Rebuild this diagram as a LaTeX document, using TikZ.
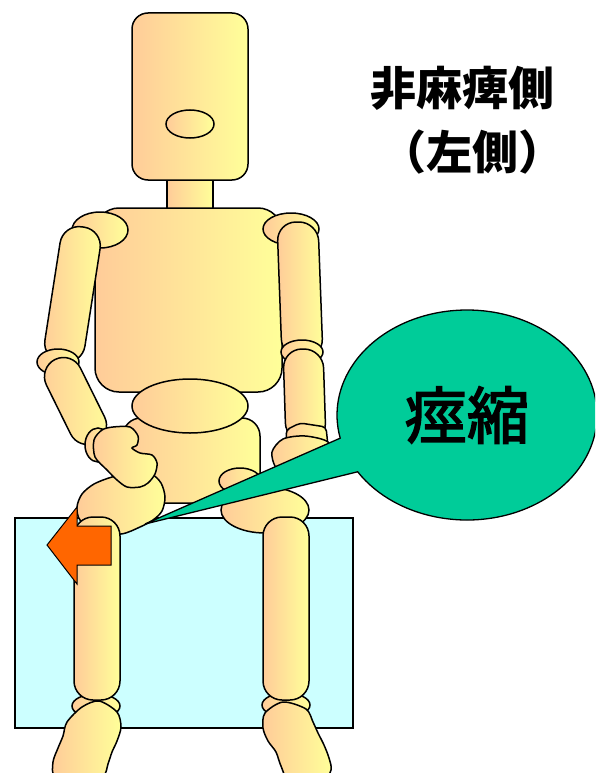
\documentclass[tikz,border=0pt]{standalone}
\usepackage{fontspec}
\newfontfamily\jpfont{Noto Sans CJK JP}
\newfontfamily\jpmedium{Noto Sans CJK JP}[FakeBold=2.5]
\usetikzlibrary{shapes.callouts}
\definecolor{woodleft}{RGB}{255,204,153}
\definecolor{woodright}{RGB}{255,255,153}
\definecolor{seatblue}{RGB}{204,255,255}
\definecolor{bubblegreen}{RGB}{0,204,153}
\definecolor{arroworange}{RGB}{255,102,0}

\begin{document}
\begin{tikzpicture}[
        x=1pt, y=-1pt,
        wood/.style={
            draw,
            line width=1.5pt,
            left color=woodleft,
            right color=woodright,
        },
        limb/.style={
            wood,
            rounded corners=19pt,
        },
        seat/.style={
            draw,
            line width=1.2pt,
            fill=seatblue,
        },
        bubble/.style={
            ellipse callout,
            draw,
            line width=1.3pt,
            fill=bubblegreen,
            minimum width=260pt,
            minimum height=210pt,
            callout pointer arc=20,
            font=\jpmedium\fontsize{62}{70}\selectfont,
        },
        label/.style={
            font=\jpfont\bfseries\fontsize{46}{50}\selectfont,
        },
    ]

    \useasboundingbox (0,0) rectangle (595,773);
    \clip (0,0) rectangle (595,773);

    \draw[seat] (15,518) rectangle (353,728);

    \draw[wood] (167,176) rectangle (213,212);
    \draw[wood, rounded corners=16pt] (132,13) rectangle (248,180);
    \draw[wood] (190,124) ellipse [x radius=24pt, y radius=14pt];

    \draw[wood, rounded corners=24pt] (95,208) rectangle (282,392);
    \draw[wood] (100,230) ellipse [x radius=28pt, y radius=18pt];
    \draw[wood] (291,229) ellipse [x radius=28pt, y radius=16pt];

    \draw[limb] (63,224) -- (103,230) -- (82,365) -- (42,359) -- cycle;
    \draw[wood] (58,362) ellipse [x radius=21pt, y radius=13pt];
    \draw[limb] (38,368) -- (72,351) -- (113,434) -- (79,451) -- cycle;

    \draw[limb] (277,222) -- (318,222) -- (323,358) -- (282,358) -- cycle;
    \draw[wood] (302,352) ellipse [x radius=21pt, y radius=12pt];
    \draw[limb] (283,349) -- (323,349) -- (326,442) -- (286,442) -- cycle;

    \draw[wood, rounded corners=18pt] (123,418) rectangle (260,503);
    \draw[wood] (190,406) ellipse [x radius=58pt, y radius=27pt];

    \draw[wood] (265,510) ellipse [x radius=44pt, y radius=23pt];
    \draw[wood] (240,481) ellipse [x radius=21pt, y radius=13pt];
    \draw[wood] plot[smooth cycle] coordinates {
        (77,507) (82,494) (94,484) (112,477) (132,473) (151,474)
        (161,483) (165,497) (162,511) (153,520) (140,527) (121,534)
        (96,531) (80,520)};

    \draw[wood] (96,706) ellipse [x radius=24pt, y radius=12pt];
    \draw[wood] plot[smooth cycle] coordinates {
        (67,722) (82,707) (99,701) (117,712) (121,727) (117,741)
        (112,752) (108,764) (103,776) (80,781) (55,777) (53,762)
        (58,748) (63,736)};
    \draw[limb] (74,517) rectangle (120,700);

    \draw[wood] (286,705) ellipse [x radius=24pt, y radius=12pt];
    \draw[wood] plot[smooth cycle] coordinates {
        (265,713) (283,702) (306,709) (313,722) (318,733) (324,745)
        (329,758) (331,770) (322,781) (290,781) (281,766) (276,752)
        (268,741) (263,728)};
    \draw[limb] (263,517) rectangle (309,700);

    \draw[wood] (98,445) ellipse [x radius=13pt, y radius=17pt];
    \draw[wood] plot[smooth cycle] coordinates {
        (102,430) (113,427) (130,427) (138,436) (137,445) (132,448)
        (140,453) (152,455) (157,463) (155,474) (148,483) (140,487)
        (127,487) (117,480) (107,470) (95,457) (94,440)};

    \draw[wood, rounded corners=4pt] (286,430) -- (300,423) -- (326,427)
        -- (328,446) -- (287,446) -- cycle;
    \draw[wood] plot[smooth cycle] coordinates {
        (272,452) (283,439) (305,436) (328,442) (330,458) (322,475)
        (310,483) (290,480) (276,468)};

    \draw[fill=arroworange, line width=1pt] (47,545) -- (77,507) -- (77,526)
        -- (111,526) -- (111,565) -- (77,565) -- (77,584) -- cycle;

    \coordinate (tip) at (145,524);
    \node[bubble, callout absolute pointer={(tip)}] (spasm) at (467,415) {痙縮};

    \node[label] (side) at (462,88) {非麻痺側};
    \node[label] (left) at (472,152) {（左側）};
\end{tikzpicture}
\end{document}
